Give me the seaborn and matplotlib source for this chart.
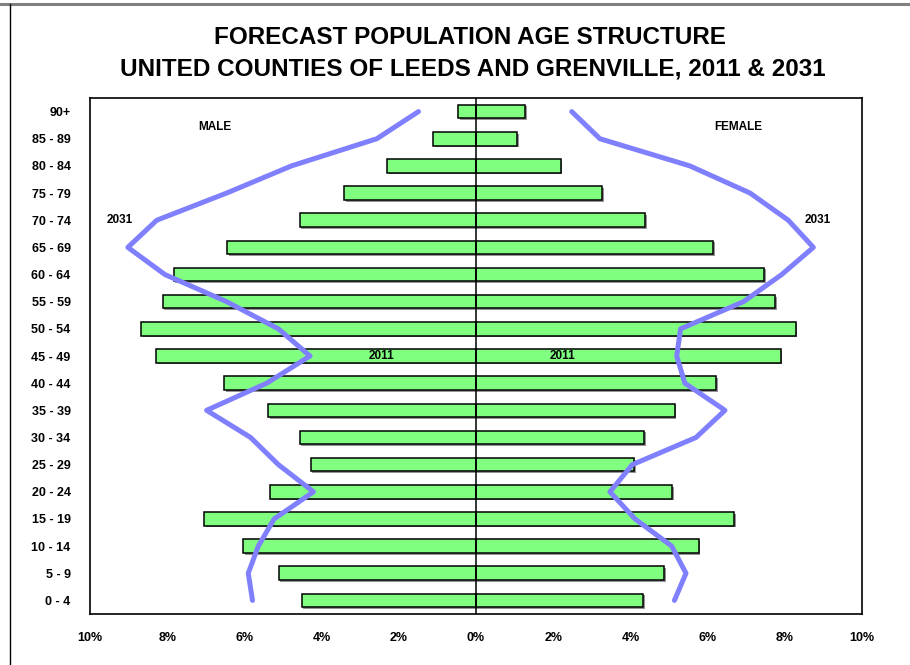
import numpy as np
import pandas as pd
import matplotlib
matplotlib.use("Agg")
import matplotlib.pyplot as plt
import matplotlib.patheffects as pe
from matplotlib.lines import Line2D
import seaborn as sns

# Age groups, oldest first (top of the pyramid)
age_groups = ["90+", "85 - 89", "80 - 84", "75 - 79", "70 - 74", "65 - 69",
              "60 - 64", "55 - 59", "50 - 54", "45 - 49", "40 - 44", "35 - 39",
              "30 - 34", "25 - 29", "20 - 24", "15 - 19", "10 - 14", "5 - 9", "0 - 4"]

# Share of population (%) in 2011
male_2011 = [0.46, 1.11, 2.31, 3.41, 4.57, 6.44, 7.83, 8.12, 8.67, 8.29,
             6.52, 5.39, 4.57, 4.28, 5.34, 7.04, 6.03, 5.11, 4.52]
female_2011 = [1.27, 1.07, 2.19, 3.26, 4.38, 6.15, 7.46, 7.75, 8.28, 7.89,
               6.23, 5.15, 4.35, 4.10, 5.08, 6.69, 5.77, 4.87, 4.33]

# Forecast share of population (%) in 2031
male_2031 = [1.49, 2.57, 4.78, 6.46, 8.27, 9.02, 8.06, 6.46, 5.12, 4.30,
             5.42, 6.98, 5.84, 5.12, 4.21, 5.23, 5.64, 5.90, 5.79]
female_2031 = [2.48, 3.21, 5.54, 7.10, 8.09, 8.74, 7.92, 6.93, 5.30, 5.20,
               5.41, 6.45, 5.70, 4.05, 3.47, 4.12, 5.07, 5.44, 5.14]

x_ticks = [-10, -8, -6, -4, -2, 0, 2, 4, 6, 8, 10]
x_tick_labels = ["10%", "8%", "6%", "4%", "2%", "0%", "2%", "4%", "6%", "8%", "10%"]

sns.set_style("white")
plt.rcParams["font.family"] = ["Liberation Sans", "DejaVu Sans"]
plt.rcParams["text.color"] = "black"
plt.rcParams["xtick.color"] = "black"
plt.rcParams["ytick.color"] = "black"

df = pd.DataFrame({
    "age": age_groups,
    "male": -np.array(male_2011),
    "female": np.array(female_2011),
    "male31": -np.array(male_2031),
    "female31": np.array(female_2031),
    "pos": np.arange(len(age_groups)),
})

fig = plt.figure(figsize=(9.10, 6.65), dpi=100)
ax = fig.add_axes([90 / 910, 1 - 614 / 665, 772 / 910, 516 / 665])

bar_fx = [pe.SimplePatchShadow(offset=(1.2, -1.2), shadow_rgbFace="#7a7a7a", alpha=0.8),
          pe.Normal()]
green = "#80FF80"
for col in ["male", "female"]:
    sns.barplot(data=df, x=col, y="age", order=age_groups, color=green,
                width=0.5, edgecolor="black", linewidth=1.1, saturation=1,
                ax=ax)
for p in ax.patches:
    p.set_path_effects(bar_fx)

# 2031 outline
line_color = "#8080FF"
for col in ["male31", "female31"]:
    sns.lineplot(data=df, x=col, y="pos", sort=False, orient="y",
                 color=line_color, linewidth=3.6, ax=ax, zorder=5)

ax.axvline(0, color="black", linewidth=1.1, zorder=6)

ax.set_xlim(-10, 10)
ax.set_ylim(len(age_groups) - 0.5, -0.5)
ax.set_xticks(x_ticks)
ax.set_xticklabels(x_tick_labels, fontsize=9, fontweight="bold")
ax.set_yticks(np.arange(len(age_groups)))
ax.set_yticklabels(age_groups, fontsize=9, fontweight="bold")
ax.tick_params(axis="both", length=0)
ax.tick_params(axis="y", pad=14)
ax.tick_params(axis="x", pad=13)
ax.set_xlabel("")
ax.set_ylabel("")
for s in ax.spines.values():
    s.set_visible(True)
    s.set_color("black")
    s.set_linewidth(1.2)

txt = dict(fontsize=8.5, fontweight="bold", ha="center", va="center", zorder=7,
           color="black")
ax.text(-6.76, 0.55, "MALE", **txt)
ax.text(6.8, 0.55, "FEMALE", **txt)
ax.text(-9.22, 4.0, "2031", **txt)
ax.text(8.85, 4.0, "2031", **txt)
ax.text(-2.45, 9.0, "2011", **txt)
ax.text(2.25, 9.0, "2011", **txt)

fig.text(470 / 910, 1 - 38 / 665, "FORECAST POPULATION AGE STRUCTURE",
         ha="center", va="center", fontsize=17.5, fontweight="bold", color="black")
fig.text(473 / 910, 1 - 69 / 665, "UNITED COUNTIES OF LEEDS AND GRENVILLE, 2011 & 2031",
         ha="center", va="center", fontsize=17.5, fontweight="bold", color="black")

# Page frame
fig.add_artist(Line2D([0, 1], [1 - 3.5 / 665, 1 - 3.5 / 665], color="#808080",
                      linewidth=2.2, transform=fig.transFigure))
fig.add_artist(Line2D([9.5 / 910, 9.5 / 910], [0, 1 - 3.5 / 665], color="black",
                      linewidth=1.0, transform=fig.transFigure))

fig.savefig("out.png", dpi=100)
